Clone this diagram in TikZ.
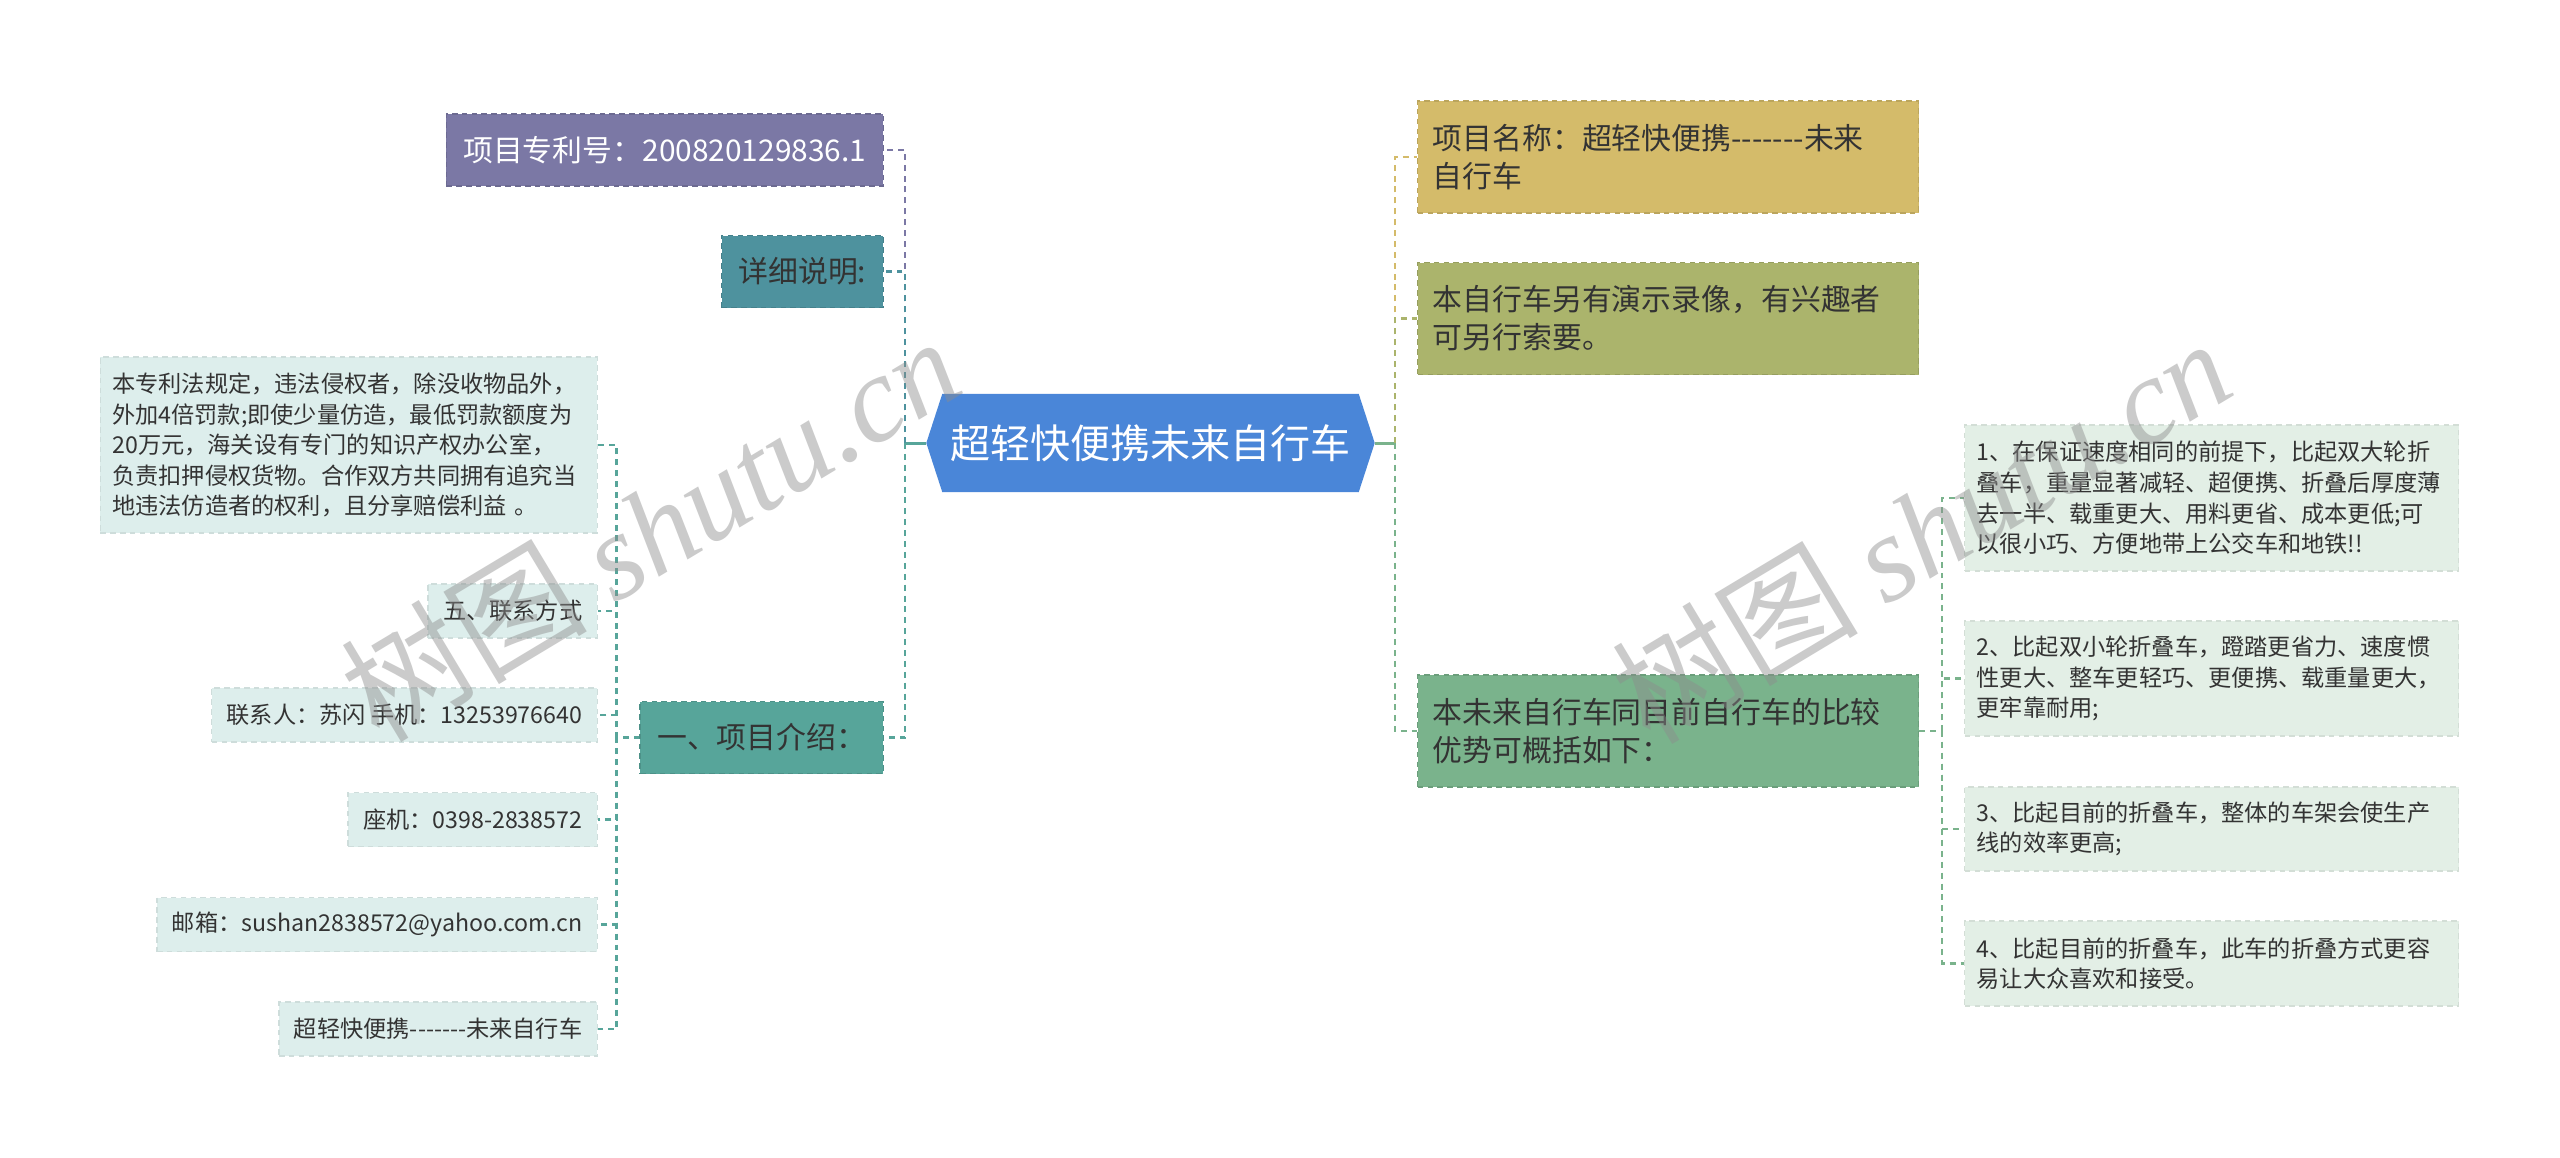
\documentclass[tikz,border=0pt]{standalone}
\usepackage{fontspec}
\setmainfont{Noto Sans CJK SC}
\newfontfamily\wmfont{Liberation Serif}
\usetikzlibrary{positioning,backgrounds,calc}
\definecolor{rootblue}{HTML}{4A86D8}
\definecolor{patpurple}{HTML}{7B78A5}
\definecolor{detteal}{HTML}{4E929E}
\definecolor{introteal}{HTML}{57A59A}
\definecolor{leftmint}{HTML}{DDEEEC}
\definecolor{nameyellow}{HTML}{D4BB6A}
\definecolor{videoolive}{HTML}{ABB46C}
\definecolor{compgreen}{HTML}{7AB38C}
\definecolor{rightmint}{HTML}{E3EFE6}
\definecolor{txtdark}{HTML}{333333}
\newcommand\sevenhy{\mbox{-}\mbox{-}\mbox{-}\mbox{-}\mbox{-}\mbox{-}\mbox{-}}
\tikzset{
  rootnode/.style={rectangle, minimum width=4.47cm, minimum height=0.97cm,
             inner sep=0pt, text=white, font=\fontsize{11.4pt}{13pt}\selectfont},
  topic/.style={rectangle, fill=#1, draw=#1!88!black, dashed,
             dash pattern=on 1.6pt off 1.2pt, line width=0.4pt, text=txtdark,
             inner xsep=0.15cm, inner ysep=0pt,
             font=\fontsize{8.5pt}{10.8pt}\selectfont},
  ltopic/.style={topic=#1, anchor=east, minimum height=0.72cm, inner xsep=0.17cm},
  rtopic/.style={topic=#1, anchor=west, text width=4.71cm, align=left,
             minimum height=1.12cm},
  leaf/.style={rectangle, fill=#1, draw=#1!93!black, dashed,
             dash pattern=on 1.6pt off 1.2pt, line width=0.4pt, text=txtdark,
             inner xsep=0.12cm, inner ysep=0pt,
             font=\fontsize{6.6pt}{8.7pt}\selectfont},
  lleaf/.style={leaf=leftmint, anchor=east, minimum height=0.54cm, inner xsep=0.15cm},
  rleaf/.style={leaf=rightmint, anchor=west, text width=4.70cm, align=left},
  link/.style={dashed, dash pattern=on 1.7pt off 1.4pt, line width=0.6pt},
  stem/.style={line width=0.85pt},
  wm/.style={text=black!45, text opacity=0.45, inner sep=0pt,
             font=\fontsize{35pt}{38pt}\selectfont}
}

\begin{document}
\begin{tikzpicture}
\useasboundingbox (0,0) rectangle (25.6,-11.57);
\node[rootnode] (root) at (11.505,-4.43) {超轻快便携未来自行车};
\begin{scope}[on background layer]
\fill[white] (0,0) rectangle (25.6,-11.57);
\fill[rootblue] (root.west) -- ([xshift=0.16cm]root.north west) -- ([xshift=-0.16cm]root.north east)
  -- (root.east) -- ([xshift=-0.16cm]root.south east) -- ([xshift=0.16cm]root.south west) -- cycle;
\end{scope}
\node[ltopic=patpurple, text=white] (pat) at (8.84,-1.50) {项目专利号：200820129836.1};
\node[ltopic=detteal] (det) at (8.84,-2.715) {详细说明:};
\node[ltopic=introteal] (intro) at (8.84,-7.375) {一、项目介绍：};
\node[lleaf, text width=4.73cm, align=left, minimum height=1.76cm, inner xsep=0.12cm] (law) at (5.98,-4.45) {本专利法规定，违法侵权者，除没收物品外，\\外加4倍罚款;即使少量仿造，最低罚款额度为\\20万元，海关设有专门的知识产权办公室，\\负责扣押侵权货物。合作双方共同拥有追究当\\地违法仿造者的权利，且分享赔偿利益 。};
\node[lleaf] (contact) at (5.98,-6.11) {五、联系方式};
\node[lleaf] (person) at (5.98,-7.15) {联系人：苏闪 手机：13253976640};
\node[lleaf] (phone) at (5.98,-8.195) {座机：0398-2838572};
\node[lleaf] (mail) at (5.98,-9.245) {邮箱：sushan2838572@yahoo.com.cn};
\node[lleaf] (slogan) at (5.98,-10.29) {超轻快便携\sevenhy 未来自行车};
\node[rtopic=nameyellow] (name) at (14.17,-1.57) {项目名称：超轻快便携\sevenhy 未来\\自行车};
\node[rtopic=videoolive] (video) at (14.17,-3.185) {本自行车另有演示录像，有兴趣者\\可另行索要。};
\node[rtopic=compgreen] (comp) at (14.17,-7.31) {本未来自行车同目前自行车的比较\\优势可概括如下：};
\node[rleaf, minimum height=1.46cm] (adv1) at (19.64,-4.98) {1、在保证速度相同的前提下，比起双大轮折\\叠车，重量显著减轻、超便携、折叠后厚度薄\\去一半、载重更大、用料更省、成本更低;可\\以很小巧、方便地带上公交车和地铁!!};
\node[rleaf, minimum height=1.15cm] (adv2) at (19.64,-6.785) {2、比起双小轮折叠车，蹬踏更省力、速度惯\\性更大、整车更轻巧、更便携、载重量更大，\\更牢靠耐用;};
\node[rleaf, minimum height=0.84cm] (adv3) at (19.64,-8.29) {3、比起目前的折叠车，整体的车架会使生产\\线的效率更高;};
\node[rleaf, minimum height=0.85cm] (adv4) at (19.64,-9.635) {4、比起目前的折叠车，此车的折叠方式更容\\易让大众喜欢和接受。};
\draw[stem, draw=introteal] (root.west) -- ++(-0.21,0) coordinate (lhub);
\draw[link, draw=patpurple] (lhub) |- (pat.east);
\draw[link, draw=detteal] (lhub) |- (det.east);
\draw[link, draw=introteal] (lhub) |- (intro.east);
\draw[stem, draw=compgreen] (root.east) -- ++(0.20,0) coordinate (rhub);
\draw[link, draw=nameyellow] (rhub) |- (name.west);
\draw[link, draw=videoolive] (rhub) |- (video.west);
\draw[link, draw=compgreen] (rhub) |- (comp.west);
\draw[link, draw=introteal] (intro.west) -- ++(-0.23,0) coordinate (ihub);
\draw[link, draw=introteal] (ihub) |- (law.east);
\draw[link, draw=introteal] (ihub) |- (contact.east);
\draw[link, draw=introteal] (ihub) |- (person.east);
\draw[link, draw=introteal] (ihub) |- (phone.east);
\draw[link, draw=introteal] (ihub) |- (mail.east);
\draw[link, draw=introteal] (ihub) |- (slogan.east);
\draw[link, draw=compgreen] (comp.east) -- ++(0.23,0) coordinate (chub);
\draw[link, draw=compgreen] (chub) |- (adv1.west);
\draw[link, draw=compgreen] (chub) |- (adv2.west);
\draw[link, draw=compgreen] (chub) |- (adv3.west);
\draw[link, draw=compgreen] (chub) |- (adv4.west);
\node[wm, rotate=31] (wmleft) at (6.5,-5.28) {树图 {\wmfont\itshape shutu.cn}};
\node[wm, rotate=31] (wmright) at (19.21,-5.30) {树图 {\wmfont\itshape shutu.cn}};
\end{tikzpicture}
\end{document}
